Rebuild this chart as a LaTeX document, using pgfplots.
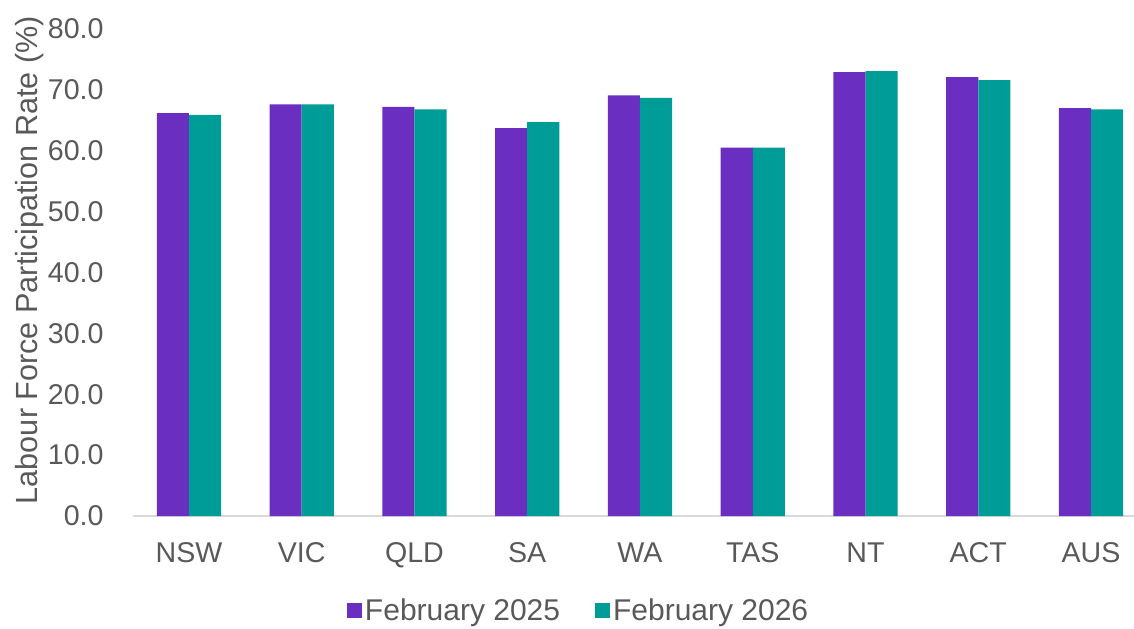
\documentclass[border=0pt]{standalone}
\usepackage{pgfplots}
\pgfplotsset{compat=1.18}
\usepackage{fontspec}
\setmainfont{Liberation Sans}
\definecolor{febA}{HTML}{6A2EC0}
\definecolor{febB}{HTML}{009C97}
\definecolor{txt}{HTML}{595959}
\definecolor{axisgrey}{HTML}{D9D9D9}
\begin{document}
\begin{tikzpicture}[x=1pt,y=1pt]
  \useasboundingbox (0,0) rectangle (567,314);
  \begin{axis}[
      at={(66.3pt,56pt)}, anchor=south west,
      scale only axis, width=507.4pt, height=243.5pt,
      xmin=-0.5, xmax=8.5, ymin=0, ymax=80,
      ybar=0pt, bar width=0.285,
      axis lines*=left, separate axis lines,
      x axis line style={axisgrey, line width=0.75pt, -},
      y axis line style={draw=none},
      major tick length=0pt,
      xtick={0,...,8},
      xticklabels={NSW,VIC,QLD,SA,WA,TAS,NT,ACT,AUS},
      ytick={0,10,...,80},
      /pgf/number format/assume math mode=true,
      yticklabel style={/pgf/number format/fixed, /pgf/number format/fixed zerofill, /pgf/number format/precision=1},
      every tick label/.append style={font=\fontsize{14.3}{16}\selectfont, text=txt, inner sep=0pt},
      every y tick label/.append style={anchor=east, xshift=-14.3pt},
      every x tick label/.append style={anchor=north, yshift=-13pt},
      legend style={at={(0.44,-0.195)}, anchor=center, draw=none, fill=none,
        legend columns=2, font=\fontsize{15}{17}\selectfont, text=txt,
        /tikz/every even column/.append style={column sep=16pt},
        nodes={inner sep=1.5pt}},
      legend image code/.code={\fill[#1] (0pt,-3.75pt) rectangle (7.5pt,3.75pt);},
    ]
    \addplot[fill=febA, draw=none] coordinates {
      (0, 66.2) (1, 67.6) (2, 67.2) (3, 63.7) (4, 69.1)
      (5, 60.5) (6, 72.9) (7, 72.1) (8, 67.0)
    };
    \addplot[fill=febB, draw=none] coordinates {
      (0, 65.9) (1, 67.6) (2, 66.8) (3, 64.7) (4, 68.7)
      (5, 60.5) (6, 73.1) (7, 71.6) (8, 66.8)
    };
    \addlegendentry{February 2025}
    \addlegendentry{February 2026}
  \end{axis}
  \node[rotate=90, text=txt, font=\fontsize{15.3}{17}\selectfont] at (15,184) {Labour Force Participation Rate (\%)};
\end{tikzpicture}
\end{document}
